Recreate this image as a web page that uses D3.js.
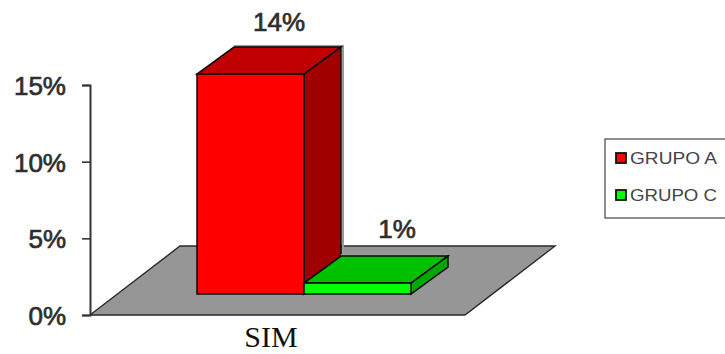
<!DOCTYPE html>
<html>
<head>
<meta charset="utf-8">
<script src="https://cdn.jsdelivr.net/npm/d3@7/dist/d3.min.js"></script>
<style>
html,body{margin:0;padding:0;background:#fff;overflow:hidden}
svg{display:block}
</style>
</head>
<body>
<svg id="chart" width="725" height="354"></svg>
<script>
// Percentages per group for the single answer category
const categories = ["SIM"];
const groups = ["GRUPO A", "GRUPO C"];
const groupValues = [14, 1];
const axisTicks = [0, 5, 10, 15];
const frontColors = ["#ff0000", "#00ff00"];
const topColors = ["#c00000", "#00c000"];
const sideColors = ["#a00000", "#00a800"];

const svg = d3.select("#chart");
const ink = "#0a0a0a";
const labelInk = "#2e2e2e";
const sans = "'Liberation Sans', Arial, sans-serif";

// Axis scale on the front plane of the 3D box
const axisY = d3.scaleLinear().domain([0, 15]).range([315, 85]);
// Bars stand further back on the floor, so they use their own projected scale
const barY = d3.scaleLinear().domain([0, 15]).range([299.1, 58]);
const barBase = 294;
const barX = d3.scaleBand().domain(groups).range([197, 411]);
const depth = {dx: 37, dy: -27};
const floorDepth = {dx: 90, dy: -69};
const floorX = d3.scaleLinear().domain([0, 1]).range([90, 465]);

const poly = pts => "M" + pts.map(p => p.join(",")).join("L") + "Z";

// Floor of the 3D box
svg.append("path")
  .attr("d", poly([
    [floorX(0), axisY(0)], [floorX(1), axisY(0)],
    [floorX(1) + floorDepth.dx, axisY(0) + floorDepth.dy],
    [floorX(0) + floorDepth.dx, axisY(0) + floorDepth.dy]
  ]))
  .attr("fill", "#969696").attr("stroke", "#2a2a2a").attr("stroke-width", 1.4);

// Value axis
const axis = d3.axisLeft(axisY)
  .tickValues(axisTicks)
  .tickFormat(d => d + "%")
  .tickSize(8)
  .tickPadding(16);
const axisG = svg.append("g").attr("transform", "translate(90,0)").call(axis);
axisG.select(".domain").attr("stroke", "#333").attr("stroke-width", 2);
axisG.selectAll(".tick line").attr("stroke", "#333").attr("stroke-width", 1.6);
axisG.selectAll(".tick text")
  .attr("font-family", sans).attr("font-size", 26)
  .attr("fill", labelInk).attr("stroke", labelInk).attr("stroke-width", 0.7)
  .attr("dy", "0.36em");

// Bars: the taller red box goes first so the green slab sits against its side
const bars = groups.map((g, i) => ({g, v: groupValues[i], i}));
const barG = svg.append("g");
bars.forEach(b => {
  const x0 = barX(b.g), x1 = x0 + barX.bandwidth(), yt = barY(b.v);
  const {dx, dy} = depth;
  // Soft grey edge behind the box
  barG.append("path")
    .attr("d", `M${x0 + dx},${yt + dy - 1}L${x1 + dx + 2},${yt + dy - 1}L${x1 + dx + 2},${barBase + dy}`)
    .attr("fill", "none").attr("stroke", "#9a9a9a").attr("stroke-width", 2);
  barG.append("path")
    .attr("d", poly([[x0, yt], [x1, yt], [x1 + dx, yt + dy], [x0 + dx, yt + dy]]))
    .attr("fill", topColors[b.i]).attr("stroke", ink).attr("stroke-width", 1.5);
  barG.append("path")
    .attr("d", poly([[x1, yt], [x1 + dx, yt + dy], [x1 + dx, barBase + dy], [x1, barBase]]))
    .attr("fill", sideColors[b.i]).attr("stroke", ink).attr("stroke-width", 1.5);
  barG.append("rect")
    .attr("x", x0).attr("y", yt).attr("width", x1 - x0).attr("height", barBase - yt)
    .attr("fill", frontColors[b.i]).attr("stroke", ink).attr("stroke-width", 1.5);
});

// Value labels above each bar
const labelAnchors = [{x: 279, y: 31}, {x: 397, y: 238}];
svg.selectAll("text.val").data(bars).join("text")
  .attr("class", "val")
  .attr("x", d => labelAnchors[d.i].x)
  .attr("y", d => labelAnchors[d.i].y)
  .attr("text-anchor", "middle")
  .attr("font-family", sans).attr("font-size", 26)
  .attr("fill", labelInk).attr("stroke", labelInk).attr("stroke-width", 0.7)
  .text(d => d.v + "%");

// Category label
svg.append("text")
  .attr("x", 271).attr("y", 347)
  .attr("text-anchor", "middle")
  .attr("font-family", "'Liberation Serif', 'Times New Roman', serif")
  .attr("font-size", 30).attr("fill", "#111")
  .text(categories[0]);

// Legend box runs off the right edge of the page
svg.append("rect")
  .attr("x", 605).attr("y", 139).attr("width", 140).attr("height", 79)
  .attr("fill", "#fff").attr("stroke", "#444").attr("stroke-width", 1.2);
const legendY = d3.scalePoint().domain(groups).range([158, 195]);
const legend = svg.selectAll("g.leg").data(bars).join("g").attr("class", "leg")
  .attr("transform", d => `translate(0,${legendY(d.g)})`);
legend.append("rect")
  .attr("x", 616).attr("y", -5).attr("width", 10).attr("height", 10)
  .attr("fill", d => frontColors[d.i]).attr("stroke", "#111").attr("stroke-width", 1.8);
legend.append("text")
  .attr("x", 630).attr("y", 6)
  .attr("font-family", sans).attr("font-size", 16).attr("fill", "#444")
  .attr("textLength", 87).attr("lengthAdjust", "spacingAndGlyphs")
  .text(d => d.g);
</script>
</body>
</html>
